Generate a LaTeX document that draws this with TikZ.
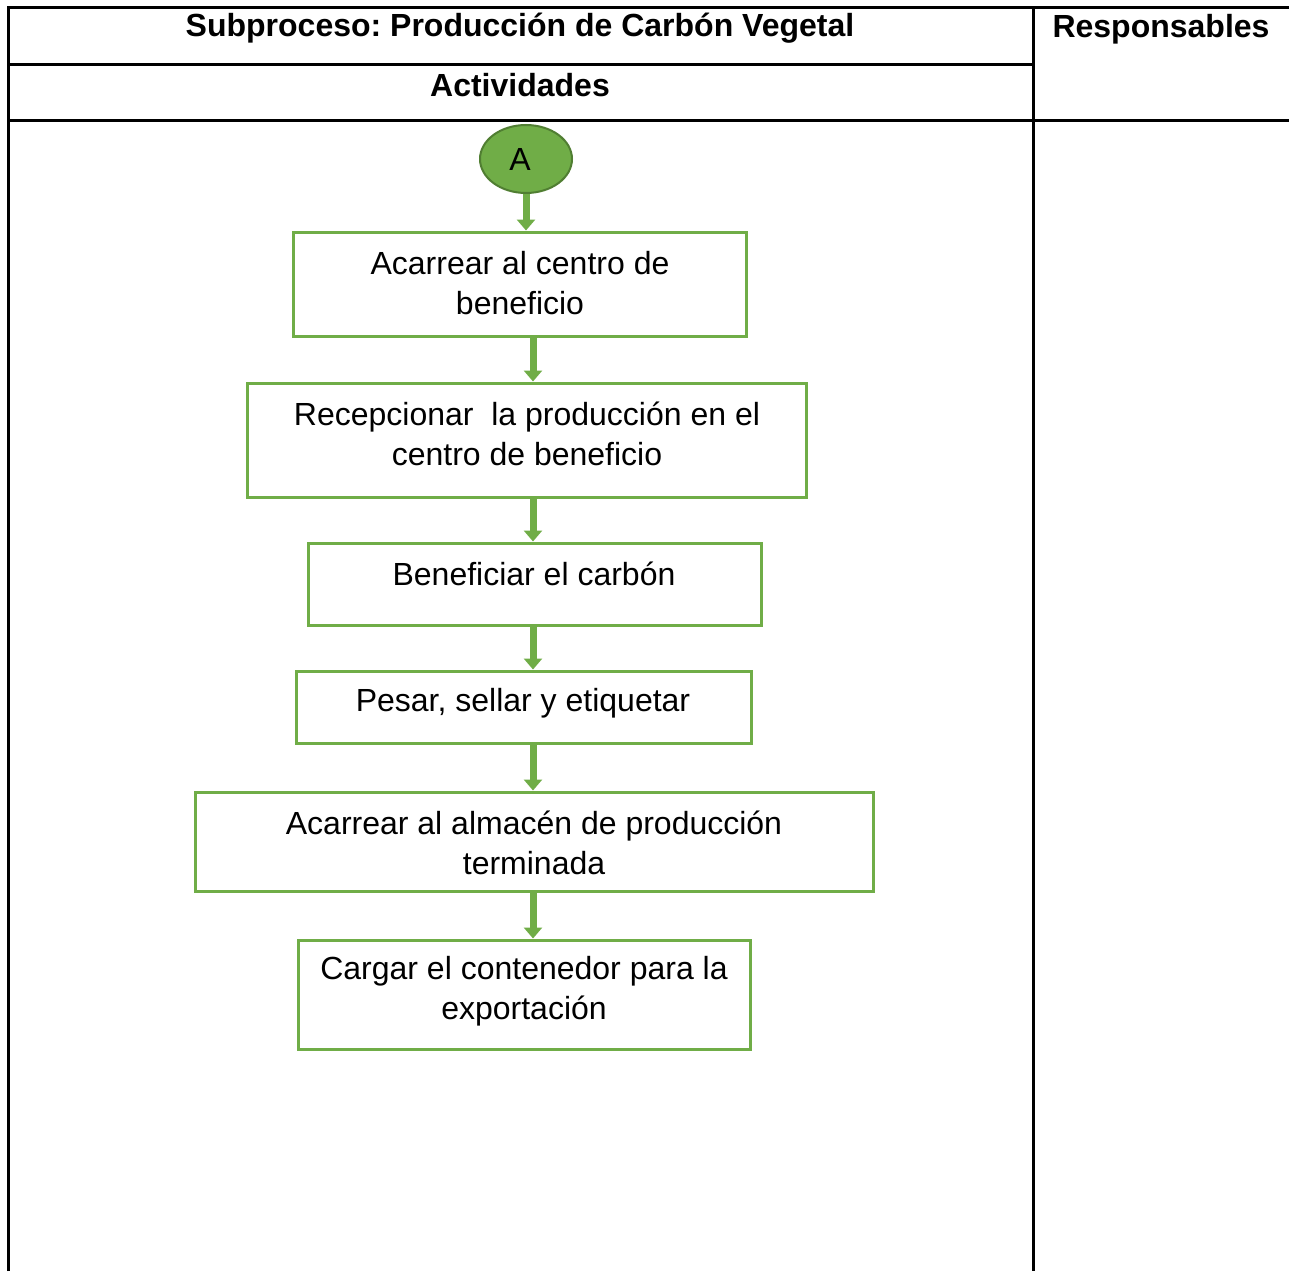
\documentclass[tikz,border=0pt]{standalone}
\usepackage{fontspec}
\setmainfont{Liberation Sans}
\usetikzlibrary{arrows.meta,shapes.geometric}
\definecolor{grn}{HTML}{70AD47}
\definecolor{dgrn}{HTML}{507E32}
\frenchspacing
\begin{document}
\begin{tikzpicture}[x=1pt,y=-1pt,
  grid/.style={line width=3pt,black},
  stepbox/.style={draw=grn,line width=3pt,rectangle,inner sep=0pt},
  txt/.style={align=center,font=\fontsize{32}{39.5}\selectfont,inner sep=0pt},
  hdr/.style={font=\bfseries\fontsize{32}{39.5}\selectfont,inner sep=0pt},
  flow/.style={draw=grn,line width=7pt,-{Triangle[width=18pt,length=11pt]},
    preaction={draw=white,line width=11pt,-{Triangle[width=23pt,length=14pt]}}}]
\useasboundingbox (0,0) rectangle (1289,1271);
\fill[white] (0,0) rectangle (1289,1271);
% table
\draw[grid] (8,1271) -- (8,8) -- (1289,8);
\draw[grid] (8,65) -- (1033,65);
\draw[grid] (8,121) -- (1289,121);
\draw[grid] (1033,8) -- (1033,1271);
\node[hdr] (t1) at (520,28) {Subproceso: Producción de Carbón Vegetal};
\node[hdr] (t2) at (520,85) {Actividades};
\node[hdr] (t3) at (1161,29) {Responsables};
% start
\node[ellipse,fill=grn,draw=dgrn,line width=2pt,minimum width=92pt,minimum height=68pt,inner sep=0pt,
  font=\fontsize{32}{39.5}\selectfont] (A) at (526,159) {A\hspace*{12pt}};
% boxes
\node[stepbox,minimum width=453pt,minimum height=104pt] (b1) at (519.5,284) {};
\node[txt] (l1) at (520,283) {Acarrear al centro de\\beneficio};
\node[stepbox,minimum width=559pt,minimum height=114pt] (b2) at (526.5,440) {};
\node[txt] (l2) at (527,434) {Recepcionar\ \ la producción en el\\centro de beneficio};
\node[stepbox,minimum width=453pt,minimum height=82pt] (b3) at (534.5,584) {};
\node[txt] (l3) at (534,574) {Beneficiar el carbón};
\node[stepbox,minimum width=455pt,minimum height=72pt] (b4) at (523.5,707) {};
\node[txt] (l4) at (523,703) {Pesar, sellar y etiquetar};
\node[stepbox,minimum width=678pt,minimum height=99pt] (b5) at (534,841.5) {};
\node[txt] (l5) at (534,843) {Acarrear al almacén de producción\\terminada};
\node[stepbox,minimum width=452pt,minimum height=109pt] (b6) at (524,994.5) {};
\node[txt] (l6) at (524,991) {Cargar el contenedor para la\\exportación};
% arrows
\coordinate (ax) at (533,0);
\draw[flow] (A.south) -- (A.south |- b1.north);
\draw[flow] (b1.south -| ax) -- (b2.north -| ax);
\draw[flow] (b2.south -| ax) -- (b3.north -| ax);
\draw[flow] (b3.south -| ax) -- (b4.north -| ax);
\draw[flow] (b4.south -| ax) -- (b5.north -| ax);
\draw[flow] (b5.south -| ax) -- (b6.north -| ax);
\end{tikzpicture}
\end{document}
